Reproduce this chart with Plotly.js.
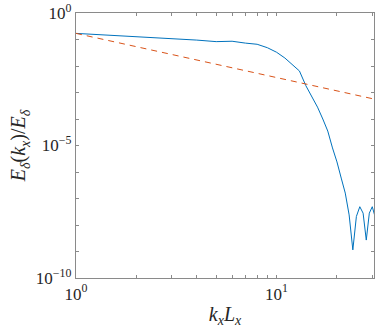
<!DOCTYPE html>
<html>
<head>
<meta charset="utf-8">
<script src="https://cdn.plot.ly/plotly-3.0.1.min.js"></script>
<style>
  html, body { margin: 0; padding: 0; background: #fff; }
  #chart { width: 379px; height: 333px; }
</style>
</head>
<body>
<div id="chart"></div>
<script>
// spectrum E_delta(k_x)/E_delta (k_x L_x = 1..31)
var kx = [1, 2, 3, 4, 5, 6, 7, 8, 9, 10,
          11, 12, 13, 14, 15, 16, 17, 18, 19, 20,
          21, 22, 23, 24, 25, 26, 27, 28, 29, 30, 31];
var spectrum = [1.70e-1, 1.29e-1, 1.10e-1, 9.5e-2, 8.3e-2, 8.6e-2, 7.3e-2, 6.6e-2, 4.9e-2, 3.3e-2,
                2.0e-2, 1.1e-2, 6.5e-3, 1.8e-3, 6.8e-4, 2.8e-4, 1.0e-4, 3.5e-5, 8.1e-6, 2.4e-6,
                5.9e-7, 1.6e-7, 2.4e-8, 1.15e-9, 2.1e-8, 4.9e-8, 2.8e-8, 2.7e-9, 2.8e-8, 4.9e-8, 2.0e-8];

// k^(-5/3) reference line, two end points
var refX = [1, 31];
var refY = [0.17, 5.55e-4];

var xTicks = [1, 2, 3, 4, 5, 6, 7, 8, 9, 10, 20, 30];
var xTickText = ['10<sup>0</sup>', '', '', '', '', '', '', '', '', '10<sup>1</sup>', '', ''];
var yTicks = [1e-10, 1e-9, 1e-8, 1e-7, 1e-6, 1e-5, 1e-4, 1e-3, 1e-2, 1e-1, 1];
var yTickText = ['10<sup>\u221210</sup>', '', '', '', '', '10<sup>\u22125</sup>', '', '', '', '', '10<sup>0</sup>'];

var axisColor = '#8a8a8a';
var serif = 'Liberation Serif, Times New Roman, serif';

var data = [
    {
        x: kx,
        y: spectrum,
        type: 'scatter',
        mode: 'lines',
        line: {color: '#0072BD', width: 1},
        hoverinfo: 'none'
    },
    {
        x: refX,
        y: refY,
        type: 'scatter',
        mode: 'lines',
        line: {color: '#D95319', width: 1, dash: '6px,5px'},
        hoverinfo: 'none'
    }
];

var layout = {
    width: 379,
    height: 333,
    margin: {l: 76, r: 5, t: 13, b: 55},
    paper_bgcolor: '#fff',
    plot_bgcolor: '#fff',
    showlegend: false,
    font: {family: serif, size: 17, color: '#262626'},
    xaxis: {
        type: 'log',
        range: [0, Math.log10(30.6)],
        tickvals: xTicks,
        ticktext: xTickText,
        ticks: 'inside',
        ticklen: 3,
        tickcolor: axisColor,
        showline: true,
        linecolor: axisColor,
        linewidth: 1.2,
        mirror: 'allticks',
        showgrid: false,
        zeroline: false,
        tickfont: {size: 17},
        title: {
            text: '<i>k</i><sub><i>x</i></sub><i>L</i><sub><i>x</i></sub>',
            font: {size: 20},
            standoff: 4
        }
    },
    yaxis: {
        type: 'log',
        range: [-10, 0],
        tickvals: yTicks,
        ticktext: yTickText,
        ticks: 'inside',
        ticklen: 3,
        tickcolor: axisColor,
        showline: true,
        linecolor: axisColor,
        linewidth: 1.2,
        mirror: 'allticks',
        showgrid: false,
        zeroline: false,
        tickfont: {size: 17},
        title: {
            text: '<i>E</i><sub><i>\u03b4</i></sub>(<i>k</i><sub><i>x</i></sub>)/<i>E</i><sub><i>\u03b4</i></sub>',
            font: {size: 20},
            standoff: 4
        }
    }
};

Plotly.newPlot('chart', data, layout, {displayModeBar: false, staticPlot: true});
</script>
</body>
</html>
